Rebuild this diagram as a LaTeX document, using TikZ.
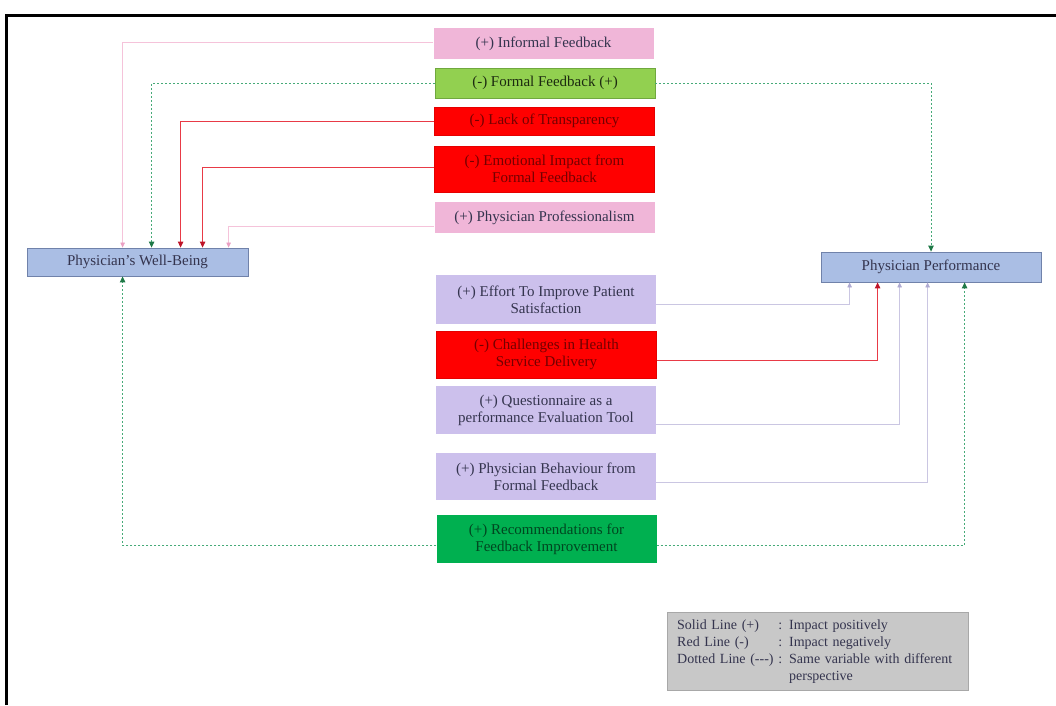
\documentclass[tikz,border=0pt]{standalone}
\usepackage{fontspec}
\setmainfont{Liberation Serif}
\usepackage{tikz}
\usetikzlibrary{arrows.meta}

\definecolor{pinkfill}{RGB}{240,182,216}
\definecolor{pinkline}{RGB}{245,195,218}
\definecolor{pinktip}{RGB}{235,160,195}
\definecolor{limefill}{RGB}{146,208,80}
\definecolor{limedraw}{RGB}{112,168,62}
\definecolor{redfill}{RGB}{255,0,0}
\definecolor{redline}{RGB}{232,58,70}
\definecolor{redtip}{RGB}{190,20,40}
\definecolor{bluefill}{RGB}{170,190,228}
\definecolor{bluedraw}{RGB}{112,130,170}
\definecolor{lavfill}{RGB}{204,192,236}
\definecolor{lavline}{RGB}{202,198,226}
\definecolor{lavtip}{RGB}{175,170,210}
\definecolor{greenfill}{RGB}{0,176,80}
\definecolor{dotgreen}{RGB}{70,170,120}
\definecolor{tipgreen}{RGB}{30,120,70}
\definecolor{keyfill}{RGB}{200,200,200}
\definecolor{keydraw}{RGB}{168,168,168}
\definecolor{inktext}{RGB}{52,52,78}

\begin{document}
\begin{tikzpicture}[x=1pt,y=-1pt,
  box/.style={rectangle, inner sep=0pt, minimum width=220, align=center,
    font=\fontsize{15}{17}\selectfont, text=inktext},
  pinkbox/.style={box, fill=pinkfill},
  limebox/.style={box, fill=limefill, draw=limedraw, text=black!75!limedraw},
  redbox/.style={box, fill=redfill, draw=red!90!black, text=red!45!black},
  lavbox/.style={box, fill=lavfill},
  greenbox/.style={box, fill=greenfill, text=black!60!greenfill},
  mainbox/.style={box, fill=bluefill, draw=bluedraw, line width=0.8pt},
  keybox/.style={rectangle, fill=keyfill, draw=keydraw, inner xsep=10pt,
    text width=281pt, minimum height=78, align=left,
    font=\fontsize{14}{17}\selectfont, text=inktext},
  pinkarrow/.style={draw=pinkline, line width=0.7pt, -{Triangle[length=5pt,width=4.5pt,color=pinktip]}},
  redarrow/.style={draw=redline, line width=0.9pt, -{Triangle[length=6pt,width=5.5pt,color=redtip]}},
  lavarrow/.style={draw=lavline, line width=0.7pt, -{Triangle[length=5pt,width=4.5pt,color=lavtip]}},
  dotarrow/.style={draw=dotgreen, line width=0.9pt, dash pattern=on 2pt off 2pt,
    -{Triangle[length=6pt,width=5.5pt,color=tipgreen]}}]

\useasboundingbox (0,0) rectangle (1056,705);

% frame of the figure
\draw[line width=3pt] (6.5,705) -- (6.5,15) -- (1056,15);

% middle column of factors
\node[pinkbox, minimum height=31] (informal) at (543.5,43.5) {(+) Informal Feedback};
\node[limebox, minimum height=30] (formal) at (545,83) {(-) Formal Feedback (+)};
\node[redbox, minimum height=28] (transp) at (544.5,121) {(-) Lack of Transparency};
\node[redbox, minimum height=46] (emotion) at (544.5,169) {(-) Emotional Impact from\\Formal Feedback};
\node[pinkbox, minimum height=31] (profess) at (544.5,217.5) {(+) Physician Professionalism};

\node[lavbox, minimum height=49] (effort) at (546,299.5) {(+) Effort To Improve Patient\\Satisfaction};
\node[redbox, minimum height=47] (service) at (546.5,354.5) {(-) Challenges in Health\\Service Delivery};
\node[lavbox, minimum height=48] (quest) at (546,410) {(+) Questionnaire as a\\performance Evaluation Tool};
\node[lavbox, minimum height=47] (behave) at (546,476.5) {(+) Physician Behaviour from\\Formal Feedback};
\node[greenbox, minimum height=48] (recomm) at (546.5,539) {(+) Recommendations for\\Feedback Improvement};

% the two outcomes
\node[mainbox, minimum width=221, minimum height=28] (wellbeing) at (137.5,262) {Physician’s Well-Being};
\node[mainbox, minimum width=220, minimum height=30] (perform) at (931,267) {Physician Performance};

% links to well-being
\draw[pinkarrow] ([yshift=1pt]informal.west) -| ([xshift=96pt]wellbeing.north west);
\draw[dotarrow] (formal.west) -| ([xshift=125pt]wellbeing.north west);
\draw[redarrow] (transp.west) -| ([xshift=154pt]wellbeing.north west);
\draw[redarrow] ([yshift=2pt]emotion.west) -| ([xshift=176pt]wellbeing.north west);
\draw[pinkarrow] ([yshift=-9pt]profess.west) -| ([xshift=202pt]wellbeing.north west);
\draw[dotarrow] ([yshift=-6pt]recomm.west) -| ([xshift=96pt]wellbeing.south west);

% links to performance
\draw[dotarrow] (formal.east) -| (perform.north);
\draw[lavarrow] ([yshift=-5pt]effort.east) -| ([xshift=29pt]perform.south west);
\draw[redarrow] ([yshift=-5.5pt]service.east) -| ([xshift=57pt]perform.south west);
\draw[lavarrow] ([yshift=-14pt]quest.east) -| ([xshift=79pt]perform.south west);
\draw[lavarrow] ([yshift=-5.5pt]behave.east) -| ([xshift=107pt]perform.south west);
\draw[dotarrow] ([yshift=-6pt]recomm.east) -| ([xshift=144pt]perform.south west);

% key
\node[keybox, anchor=north west] (key) at (667,612) {%
\begin{tabular}{@{}l@{ }l@{}}
Solid Line (+) & : Impact positively\\
Red Line (-) & : Impact negatively\\
Dotted Line (-{}-{}-) & : Same variable with different\\
 & \hphantom{: }perspective
\end{tabular}};

\end{tikzpicture}
\end{document}
